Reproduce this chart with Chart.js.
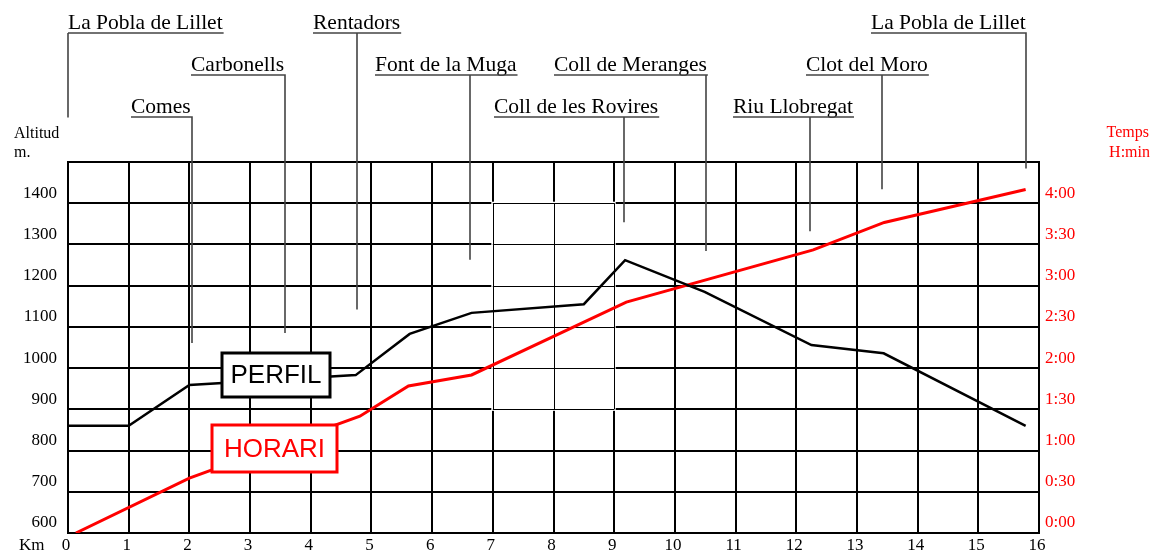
<!DOCTYPE html>
<html>
<head>
<meta charset="utf-8">
<script src="https://cdn.jsdelivr.net/npm/chart.js@4"></script>
<style>
  body { margin: 0; background: #fff; }
</style>
</head>
<body>
<canvas id="chart" width="1153" height="552"></canvas>
<script>
// Perfil: altitud (m) per km
const perfilKm = [0, 1, 2.0, 4.74, 5.63, 6.65, 8.5, 9.18, 10.49, 12.25, 13.44, 15.78];
const perfilAlt = [860, 860, 959, 983, 1083, 1134, 1155, 1262, 1185, 1056, 1036, 860];

// Horari: minuts des de la sortida per km
const horariKm = [0.13, 2.0, 4.81, 5.61, 6.65, 9.2, 12.28, 13.45, 15.78];
const horariMin = [0, 40, 85, 107, 115, 168, 206, 226, 250];

// tick labels
const altTicks = [600, 700, 800, 900, 1000, 1100, 1200, 1300, 1400];
const timeTicks = ['0:00', '0:30', '1:00', '1:30', '2:00', '2:30', '3:00', '3:30', '4:00'];

// places along the route (km where the leader line sits, altitude where it stops)
const placeNames = ['La Pobla de Lillet', 'Comes', 'Carbonells', 'Rentadors', 'Font de la Muga',
  'Coll de les Rovires', 'Coll de Meranges', 'Riu Llobregat', 'Clot del Moro', 'La Pobla de Lillet'];
const placeKm = [0, 2.04, 3.58, 4.77, 6.62, 9.16, 10.51, 12.23, 13.42, 15.79];
const placeLeaderAlt = [1608, 1061, 1085, 1142, 1263, 1354, 1284, 1332, 1434, 1484];

// label layout (pixels)
const placeTextX = [68, 131, 191, 313, 375, 494, 554, 733, 806, 871];
const placeRow = [0, 2, 1, 0, 1, 2, 1, 2, 1, 0];
const rowY = [33, 75, 117];

const serif = '"Liberation Serif", "Times New Roman", serif';
const sans = '"Liberation Sans", Arial, sans-serif';

const decorations = {
  id: 'decorations',
  beforeDatasetsDraw(chart) {
    // lighter patch of grid between km 7-9 and 900-1400 m
    const ctx = chart.ctx;
    const x = chart.scales.x, y = chart.scales.y;
    const x1 = x.getPixelForValue(7), x2 = x.getPixelForValue(9);
    const y1 = y.getPixelForValue(1400), y2 = y.getPixelForValue(900);
    ctx.save();
    ctx.fillStyle = '#fff';
    ctx.fillRect(x1 - 1.5, y1 - 1.5, x2 - x1 + 3, y2 - y1 + 3);
    ctx.strokeStyle = '#000';
    ctx.lineWidth = 1;
    ctx.beginPath();
    for (let k = 7; k <= 9; k++) {
      const px = Math.round(x.getPixelForValue(k)) + 0.5;
      ctx.moveTo(px, y1); ctx.lineTo(px, y2);
    }
    for (let a = 900; a <= 1400; a += 100) {
      const py = Math.round(y.getPixelForValue(a)) + 0.5;
      ctx.moveTo(x1, py); ctx.lineTo(x2, py);
    }
    ctx.stroke();
    ctx.restore();
  },
  afterDatasetsDraw(chart) {
    const ctx = chart.ctx;
    ctx.save();
    // legend boxes
    const boxes = [
      { text: 'PERFIL', color: '#000', x: 222, y: 353, w: 108, h: 44 },
      { text: 'HORARI', color: '#ff0000', x: 212, y: 425, w: 125, h: 47 }
    ];
    boxes.forEach(b => {
      ctx.fillStyle = '#fff';
      ctx.fillRect(b.x, b.y, b.w, b.h);
      ctx.strokeStyle = b.color;
      ctx.lineWidth = 3;
      ctx.strokeRect(b.x, b.y, b.w, b.h);
      ctx.fillStyle = b.color;
      ctx.font = '26px ' + sans;
      ctx.textAlign = 'center';
      ctx.textBaseline = 'middle';
      ctx.fillText(b.text, b.x + b.w / 2, b.y + b.h / 2 + 1);
    });
    ctx.restore();
  },
  afterDraw(chart) {
    const ctx = chart.ctx;
    const x = chart.scales.x, y = chart.scales.y;
    ctx.save();
    // place names with leader lines
    ctx.font = '21.5px ' + serif;
    ctx.textBaseline = 'alphabetic';
    ctx.textAlign = 'left';
    placeNames.forEach((name, i) => {
      const tx = placeTextX[i];
      const uy = rowY[placeRow[i]];
      const lx = Math.round(x.getPixelForValue(placeKm[i]));
      const ly = y.getPixelForValue(placeLeaderAlt[i]);
      const w = ctx.measureText(name).width;
      ctx.fillStyle = '#000';
      ctx.fillText(name, tx, uy - 4);
      ctx.strokeStyle = '#444';
      ctx.lineWidth = 1.6;
      ctx.beginPath();
      ctx.moveTo(tx, uy);
      ctx.lineTo(Math.max(tx + w + 1, lx + 0.8), uy);
      ctx.moveTo(lx, uy);
      ctx.lineTo(lx, ly);
      ctx.stroke();
    });
    // axis captions
    ctx.font = '16px ' + serif;
    ctx.fillStyle = '#000';
    ctx.fillText('Altitud', 14, 138);
    ctx.fillText('m.', 14, 157);
    ctx.font = '17px ' + serif;
    ctx.fillText('Km', 19, 550);
    ctx.fillStyle = '#ff0000';
    ctx.font = '16px ' + serif;
    ctx.textAlign = 'right';
    ctx.fillText('Temps', 1149, 137);
    ctx.fillText('H:min', 1150, 157);
    ctx.restore();
  }
};

new Chart(document.getElementById('chart'), {
  type: 'line',
  data: {
    datasets: [
      {
        label: 'PERFIL',
        data: perfilKm.map((k, i) => ({ x: k, y: perfilAlt[i] })),
        yAxisID: 'y',
        borderColor: '#000',
        borderWidth: 2.5,
        pointRadius: 0,
        tension: 0
      },
      {
        label: 'HORARI',
        data: horariKm.map((k, i) => ({ x: k, y: horariMin[i] })),
        yAxisID: 'y2',
        borderColor: '#ff0000',
        borderWidth: 3,
        pointRadius: 0,
        tension: 0
      }
    ]
  },
  options: {
    responsive: false,
    animation: false,
    events: [],
    layout: { padding: { top: 162, left: 0, right: 0, bottom: 0 } },
    plugins: {
      legend: { display: false },
      tooltip: { enabled: false }
    },
    scales: {
      x: {
        type: 'linear',
        min: 0,
        max: 16,
        afterFit: s => { s.height = 19; },
        grid: { color: '#000', lineWidth: 2, drawTicks: false },
        border: { color: '#000', width: 2 },
        ticks: {
          stepSize: 1,
          padding: 2,
          labelOffset: -2,
          color: '#000',
          font: { family: serif, size: 17 }
        }
      },
      y: {
        position: 'left',
        min: 600,
        max: 1500,
        afterFit: s => { s.width = 68; },
        grid: { color: '#000', lineWidth: 2, drawTicks: false },
        border: { color: '#000', width: 2 },
        ticks: {
          stepSize: 100,
          padding: 11,
          labelOffset: -10,
          color: '#000',
          font: { family: serif, size: 17, lineHeight: 0.5 },
          callback: v => altTicks.includes(v) ? String(v) : ''
        }
      },
      y2: {
        position: 'right',
        min: 0,
        max: 270,
        afterFit: s => { s.width = 114; },
        grid: { display: false, drawTicks: false },
        border: { color: '#000', width: 2 },
        ticks: {
          stepSize: 30,
          padding: 6,
          labelOffset: -10,
          color: '#ff0000',
          font: { family: serif, size: 17, lineHeight: 0.5 },
          callback: v => timeTicks[v / 30] || ''
        }
      }
    }
  },
  plugins: [decorations]
});
</script>
</body>
</html>
